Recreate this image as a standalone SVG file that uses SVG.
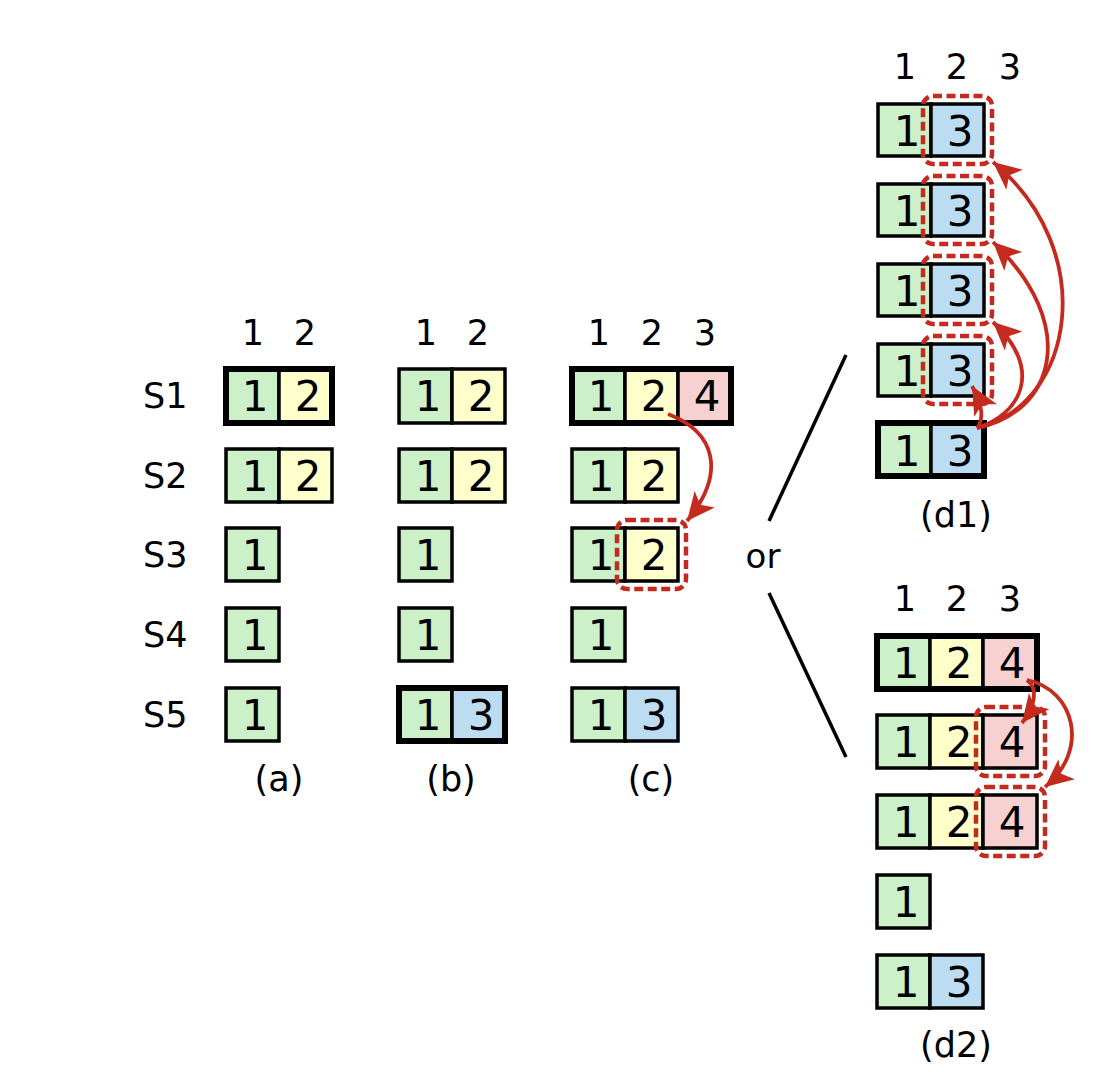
<svg xmlns="http://www.w3.org/2000/svg" width="1112" height="1088" viewBox="0 0 1112 1088">
<style>
text{font-family:"DejaVu Sans","Liberation Sans",sans-serif;fill:#000}
.lbl{font-size:35px}
.hd{font-size:35px;text-anchor:middle}
.cap{font-size:35px;text-anchor:middle}
.d{font-size:42px;text-anchor:middle}
.g{fill:#ccf1c8;stroke:#000;stroke-width:3.5}
.y{fill:#ffffcc;stroke:#000;stroke-width:3.5}
.b{fill:#bcdcf2;stroke:#000;stroke-width:3.5}
.p{fill:#f7d0d0;stroke:#000;stroke-width:3.5}
.thick{fill:none;stroke:#000;stroke-width:6}
.dash{fill:none;stroke:#c52a1e;stroke-width:4.5;stroke-dasharray:9 4.5}
.arr{fill:none;stroke:#c52a1e;stroke-width:3.8;marker-end:url(#ah)}
.ln{stroke:#000;stroke-width:3.5}
</style>
<defs>
<marker id="ah" viewBox="-30 -16 32 32" refX="0" refY="0" markerWidth="32" markerHeight="32" markerUnits="userSpaceOnUse" orient="auto">
<path d="M0,0 L-28,-13 L-21,0 L-28,13 z" fill="#c52a1e"/>
</marker>
</defs>
<rect width="1112" height="1088" fill="#fff"/>

<g id="labels">
<text class="lbl" x="143" y="408">S1</text>
<text class="lbl" x="143" y="488">S2</text>
<text class="lbl" x="143" y="567">S3</text>
<text class="lbl" x="143" y="647">S4</text>
<text class="lbl" x="143" y="727">S5</text>
<text class="hd" x="253" y="345">1</text><text class="hd" x="305" y="345">2</text>
<text class="hd" x="426" y="345">1</text><text class="hd" x="478" y="345">2</text>
<text class="hd" x="599" y="345">1</text><text class="hd" x="652" y="345">2</text><text class="hd" x="705" y="345">3</text>
<text class="hd" x="905" y="79">1</text><text class="hd" x="957" y="79">2</text><text class="hd" x="1010" y="79">3</text>
<text class="hd" x="905" y="611">1</text><text class="hd" x="957" y="611">2</text><text class="hd" x="1010" y="611">3</text>
<text class="cap" x="279" y="791">(a)</text>
<text class="cap" x="451" y="791">(b)</text>
<text class="cap" x="651" y="791">(c)</text>
<text class="cap" x="956" y="527">(d1)</text>
<text class="cap" x="956" y="1057">(d2)</text>
<text class="lbl" x="763" y="568" style="text-anchor:middle;font-size:34px">or</text>
</g>

<!-- column (a) -->
<g id="a-s1"><rect class="g" x="226" y="369" width="53" height="54"/><rect class="y" x="279" y="369" width="53" height="54"/><rect class="thick" x="226" y="369" width="106" height="54"/><text class="d" x="255" y="411">1</text><text class="d" x="308" y="411">2</text></g>
<g id="a-s2"><rect class="g" x="226" y="449" width="53" height="53"/><rect class="y" x="279" y="449" width="53" height="53"/><text class="d" x="255" y="491">1</text><text class="d" x="308" y="491">2</text></g>
<g id="a-s3"><rect class="g" x="226" y="528" width="53" height="53"/><text class="d" x="255" y="570">1</text></g>
<g id="a-s4"><rect class="g" x="226" y="608" width="53" height="53"/><text class="d" x="255" y="650">1</text></g>
<g id="a-s5"><rect class="g" x="226" y="688" width="53" height="53"/><text class="d" x="255" y="730">1</text></g>

<!-- column (b) -->
<g id="b-s1"><rect class="g" x="399" y="369" width="53" height="54"/><rect class="y" x="452" y="369" width="53" height="54"/><text class="d" x="428" y="411">1</text><text class="d" x="481" y="411">2</text></g>
<g id="b-s2"><rect class="g" x="399" y="449" width="53" height="53"/><rect class="y" x="452" y="449" width="53" height="53"/><text class="d" x="428" y="491">1</text><text class="d" x="481" y="491">2</text></g>
<g id="b-s3"><rect class="g" x="399" y="528" width="53" height="53"/><text class="d" x="428" y="570">1</text></g>
<g id="b-s4"><rect class="g" x="399" y="608" width="53" height="53"/><text class="d" x="428" y="650">1</text></g>
<g id="b-s5"><rect class="g" x="399" y="688" width="53" height="53"/><rect class="b" x="452" y="688" width="53" height="53"/><rect class="thick" x="399" y="688" width="106" height="53"/><text class="d" x="428" y="730">1</text><text class="d" x="481" y="730">3</text></g>

<!-- column (c) -->
<g id="c-s1"><rect class="g" x="572" y="369" width="53" height="54"/><rect class="y" x="625" y="369" width="53" height="54"/><rect class="p" x="678" y="369" width="53" height="54"/><rect class="thick" x="572" y="369" width="159" height="54"/><text class="d" x="601" y="411">1</text><text class="d" x="654" y="411">2</text><text class="d" x="707" y="411">4</text></g>
<g id="c-s2"><rect class="g" x="572" y="449" width="53" height="53"/><rect class="y" x="625" y="449" width="53" height="53"/><text class="d" x="601" y="491">1</text><text class="d" x="654" y="491">2</text></g>
<g id="c-s3"><rect class="g" x="572" y="528" width="53" height="53"/><rect class="y" x="625" y="528" width="53" height="53"/><text class="d" x="601" y="570">1</text><text class="d" x="654" y="570">2</text><rect class="dash" x="617" y="520" width="69" height="69" rx="10"/></g>
<g id="c-s4"><rect class="g" x="572" y="608" width="53" height="53"/><text class="d" x="601" y="650">1</text></g>
<g id="c-s5"><rect class="g" x="572" y="688" width="53" height="53"/><rect class="b" x="625" y="688" width="53" height="53"/><text class="d" x="601" y="730">1</text><text class="d" x="654" y="730">3</text></g>

<!-- (d1) -->
<g id="d1-s1"><rect class="g" x="878" y="104" width="53" height="52"/><rect class="b" x="931" y="104" width="53" height="52"/><text class="d" x="907" y="146">1</text><text class="d" x="960" y="146">3</text><rect class="dash" x="923" y="96" width="69" height="68" rx="10"/></g>
<g id="d1-s2"><rect class="g" x="878" y="184" width="53" height="52"/><rect class="b" x="931" y="184" width="53" height="52"/><text class="d" x="907" y="226">1</text><text class="d" x="960" y="226">3</text><rect class="dash" x="923" y="176" width="69" height="68" rx="10"/></g>
<g id="d1-s3"><rect class="g" x="878" y="264" width="53" height="52"/><rect class="b" x="931" y="264" width="53" height="52"/><text class="d" x="907" y="306">1</text><text class="d" x="960" y="306">3</text><rect class="dash" x="923" y="256" width="69" height="68" rx="10"/></g>
<g id="d1-s4"><rect class="g" x="878" y="344" width="53" height="52"/><rect class="b" x="931" y="344" width="53" height="52"/><text class="d" x="907" y="386">1</text><text class="d" x="960" y="386">3</text><rect class="dash" x="923" y="336" width="69" height="68" rx="10"/></g>
<g id="d1-s5"><rect class="g" x="878" y="423" width="53" height="53"/><rect class="b" x="931" y="423" width="53" height="53"/><rect class="thick" x="878" y="423" width="106" height="53"/><text class="d" x="907" y="466">1</text><text class="d" x="960" y="466">3</text></g>

<!-- (d2) -->
<g id="d2-s1"><rect class="g" x="877" y="636" width="53" height="53"/><rect class="y" x="930" y="636" width="53" height="53"/><rect class="p" x="983" y="636" width="54" height="53"/><rect class="thick" x="877" y="636" width="160" height="53"/><text class="d" x="906" y="678">1</text><text class="d" x="959" y="678">2</text><text class="d" x="1012" y="678">4</text></g>
<g id="d2-s2"><rect class="g" x="877" y="715" width="53" height="53"/><rect class="y" x="930" y="715" width="53" height="53"/><rect class="p" x="983" y="715" width="54" height="53"/><text class="d" x="906" y="757">1</text><text class="d" x="959" y="757">2</text><text class="d" x="1012" y="757">4</text><rect class="dash" x="976" y="707" width="69" height="69" rx="10"/></g>
<g id="d2-s3"><rect class="g" x="877" y="795" width="53" height="53"/><rect class="y" x="930" y="795" width="53" height="53"/><rect class="p" x="983" y="795" width="54" height="53"/><text class="d" x="906" y="837">1</text><text class="d" x="959" y="837">2</text><text class="d" x="1012" y="837">4</text><rect class="dash" x="976" y="787" width="69" height="69" rx="10"/></g>
<g id="d2-s4"><rect class="g" x="877" y="875" width="53" height="53"/><text class="d" x="906" y="917">1</text></g>
<g id="d2-s5"><rect class="g" x="877" y="955" width="53" height="53"/><rect class="b" x="930" y="955" width="53" height="53"/><text class="d" x="906" y="997">1</text><text class="d" x="959" y="997">3</text></g>

<g id="connectors">
<line class="ln" x1="846" y1="355" x2="769" y2="521"/>
<line class="ln" x1="769" y1="593" x2="846" y2="757"/>
<path class="arr" d="M668,414 C715,432 727,472 687,521"/>
<path class="arr" d="M977,428 C1075,405 1100,250 993,162"/>
<path class="arr" d="M977,428 C1055,412 1080,325 993,242"/>
<path class="arr" d="M977,428 C1020,415 1045,370 993,322"/>
<path class="arr" d="M977,428 C985,418 982,404 972,386"/>
<path class="arr" d="M1027,680 C1038,688 1036,705 1022,723"/>
<path class="arr" d="M1027,680 C1075,690 1090,750 1045,787"/>
</g>
</svg>
